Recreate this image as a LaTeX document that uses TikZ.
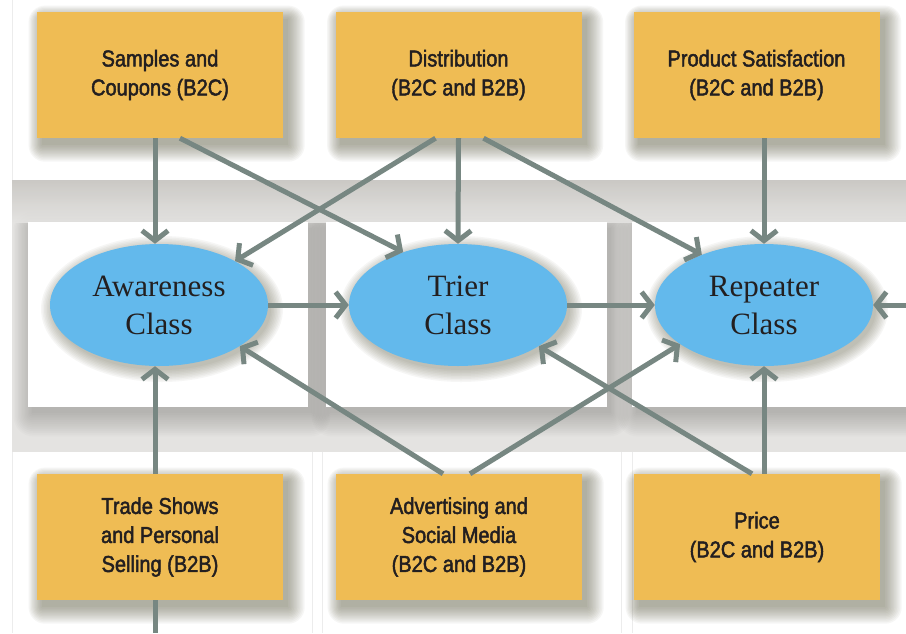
\documentclass[tikz,border=0pt]{standalone}
\usepackage{fontspec}
\usetikzlibrary{arrows.meta,shapes.geometric,calc}
\newfontfamily\boxfont{Liberation Sans}[FakeStretch=0.87,FakeBold=2]
\newfontfamily\classfont{Liberation Serif}
\definecolor{boxfill}{HTML}{EFBC54}
\definecolor{classfill}{HTML}{63B9EC}
\definecolor{linkgray}{HTML}{778782}
\definecolor{ink}{HTML}{231F20}
\definecolor{band}{HTML}{E4E3E1}
\definecolor{banddark}{HTML}{C8C6C2}
\definecolor{rule}{HTML}{ECECEC}
\definecolor{shadowtone}{HTML}{5F5D45}
\definecolor{panelshadow}{HTML}{7E7C77}

\pgfdeclarelayer{back}
\pgfdeclarelayer{shade}
\pgfsetlayers{back,shade,main}

\tikzset{
  factor/.style={rectangle, fill=boxfill, minimum width=246pt, minimum height=126pt,
    inner sep=0pt, align=center, text=ink,
    font=\boxfont\fontsize{23}{29}\selectfont},
  buyer/.style={ellipse, fill=classfill, minimum width=218pt, minimum height=122pt,
    inner sep=0pt, align=center, text=ink,
    font=\classfont\fontsize{31}{38}\selectfont},
  soft/.style={fill=shadowtone, opacity=0.05},
  panelsoft/.style={fill=panelshadow, opacity=0.035},
  flow/.style={draw=linkgray, line width=5pt, -{Straight Barb[length=10pt,width=26pt]}},
  plainflow/.style={draw=linkgray, line width=5pt}
}

\begin{document}
\begin{tikzpicture}[x=1pt,y=-1pt]
  \useasboundingbox (0,0) rectangle (906,633);

  \begin{pgfonlayer}{back}
    % page background and the shaded middle band
    \fill[white] (0,0) rectangle (906,633);
    \fill[band] (12,180) rectangle (906,452);
    % soft shadows of the three panels
    \foreach \x/\w in {28/308, 326/607, 632/906}
      \foreach \k in {0,...,13}
        \fill[panelsoft, rounded corners={\k*1.5pt}]
          ({\x+4-\k*1.4},{222+6-\k*1.4}) rectangle ({\w+4+\k*1.4},{407+6+\k*1.8});
    \shade[top color=banddark, bottom color=band, opacity=0.9] (12,180) rectangle (906,222);
    \fill[white] (12,0) rectangle (906,180);
    \fill[white] (12,452) rectangle (906,633);
    % panels behind the buyer classes
    \fill[white] (28,222) rectangle (308,407);
    \fill[white] (326,222) rectangle (607,407);
    \fill[white] (632,222) rectangle (906,407);
    % faint cell rules
    \draw[rule, line width=1pt] (12,0) -- (12,180) (12,452) -- (12,633)
      (312,452) -- (312,633) (322,452) -- (322,633)
      (621,452) -- (621,633) (632,452) -- (632,633);
  \end{pgfonlayer}

  % marketing factors
  \node[factor] (s)  at (160,75)   {Samples and\\Coupons (B2C)};
  \node[factor] (d)  at (458.5,75) {Distribution\\(B2C and B2B)};
  \node[factor] (p)  at (756.5,75) {Product Satisfaction\\(B2C and B2B)};
  \node[factor] (t)  at (160,537)  {Trade Shows\\and Personal\\Selling (B2B)};
  \node[factor] (a)  at (459,537)  {Advertising and\\Social Media\\(B2C and B2B)};
  \node[factor] (pr) at (757,537)  {Price\\(B2C and B2B)};

  % buyer classes
  \node[buyer] (aw) at (159,305) {Awareness\\Class};
  \node[buyer] (tr) at (458,305) {Trier\\Class};
  \node[buyer] (re) at (764,305) {Repeater\\Class};

  % soft drop shadows under boxes and ellipses
  \begin{pgfonlayer}{shade}
    \foreach \n in {s,d,p,t,a,pr}
      \foreach \k in {0,...,11}
        \fill[soft, rounded corners={\k*1.5pt}]
          ($(\n.north west)+({5-\k*1.2},{7-\k*1.2})$) rectangle
          ($(\n.south east)+({5+\k*1.5},{7+\k*1.5})$);
    \foreach \n in {aw,tr,re}
      \foreach \k in {0,...,8}
        \fill[soft] ($(\n.center)+(3,4)$) ellipse [x radius={109pt+\k*1.5pt}, y radius={61pt+\k*1.5pt}];
  \end{pgfonlayer}

  \coordinate (edge) at (906,305);
  \coordinate (foot) at (155,633);

  % influences
  \draw[flow] ($(s.south)+(-5,0)$) -- ($(aw.north)+(-4,0)$);
  \draw[flow] ($(s.south)+(20,0)$) -- (tr.136);
  \draw[flow] ($(d.south)+(-23,0)$) -- (aw.30);
  \draw[flow] (d.south) -- (tr.north);
  \draw[flow] ($(d.south)+(25,0)$) -- (re.141);
  \draw[flow] (p.south -| re.north) -- (re.north);
  \draw[flow] (aw.east) -- (tr.west);
  \draw[flow] (tr.east) -- (re.west);
  \draw[flow] (edge) -- (re.east);
  \draw[flow] ($(t.north)+(-5,0)$) -- ($(aw.south)+(-4,0)$);
  \draw[plainflow] ($(t.south)+(-5,0)$) -- (foot);
  \draw[flow] ($(a.north)+(-16,0)$) -- (aw.-27);
  \draw[flow] ($(a.north)+(11,0)$) -- (re.-155);
  \draw[flow] ($(pr.north)+(-5,0)$) -- (tr.-27);
  \draw[flow] (pr.north -| re.south) -- (re.south);
\end{tikzpicture}
\end{document}
